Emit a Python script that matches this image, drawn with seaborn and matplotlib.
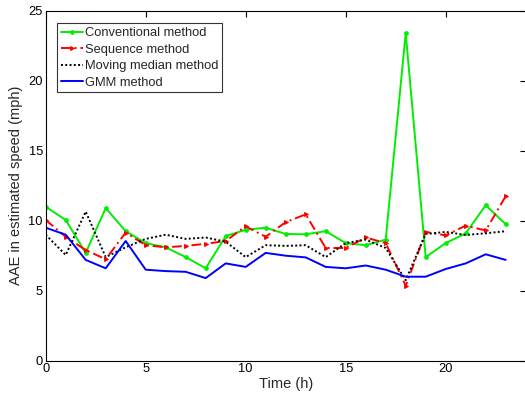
import matplotlib
matplotlib.use("Agg")
import matplotlib.pyplot as plt
import seaborn as sns
import pandas as pd

hours = list(range(24))
conventional = [11.0, 10.05, 7.7, 10.9, 9.25, 8.4, 8.1, 7.4, 6.6, 8.9, 9.35, 9.5, 9.05,
                9.03, 9.25, 8.4, 8.25, 8.65, 23.4, 7.4, 8.4, 9.1, 11.1, 9.75]
sequence = [10.05, 8.85, 7.9, 7.25, 9.15, 8.25, 8.1, 8.2, 8.35, 8.55, 9.6, 8.85, 9.9,
            10.45, 8.05, 8.05, 8.8, 8.4, 5.35, 9.2, 8.95, 9.65, 9.3, 11.75]
moving_median = [9.0, 7.55, 10.65, 7.4, 8.1, 8.7, 9.0, 8.7, 8.8, 8.5, 7.4, 8.25, 8.2,
                 8.25, 7.4, 8.4, 8.65, 8.05, 5.75, 9.05, 9.2, 8.98, 9.1, 9.25]
gmm = [9.5, 9.0, 7.2, 6.6, 8.55, 6.5, 6.4, 6.35, 5.9, 6.95, 6.7, 7.7, 7.5,
       7.38, 6.7, 6.6, 6.8, 6.5, 6.0, 6.0, 6.55, 6.95, 7.6, 7.2]

methods = ["Conventional method", "Sequence method", "Moving median method", "GMM method"]
series = [conventional, sequence, moving_median, gmm]

df = pd.DataFrame({
    "hour": hours * len(methods),
    "aae": [v for s in series for v in s],
    "method": [m for m in methods for _ in hours],
})

sns.set_style("white")
plt.rcParams["font.family"] = ["Liberation Sans", "DejaVu Sans"]

fig = plt.figure(figsize=(5.25, 3.97), dpi=100)
ax = fig.add_axes([45.7 / 525, 1 - 360.7 / 397, 480 / 525, 350 / 397])

palette = {"Conventional method": "#00ee00", "Sequence method": "#ff0000",
           "Moving median method": "#000000", "GMM method": "#0000ff"}
styles = {
    "Conventional method": dict(ls="-", marker="o", ms=2.6),
    "Sequence method": dict(ls=(0, (5, 2, 1, 2)), marker=">", ms=2.8),
    "Moving median method": dict(ls=(0, (1, 1.2)), marker=None, ms=0),
    "GMM method": dict(ls="-", marker=None, ms=0),
}

for m in methods:
    st = styles[m]
    sns.lineplot(data=df[df["method"] == m], x="hour", y="aae", ax=ax,
                 color=palette[m], lw=1.4, linestyle=st["ls"],
                 marker=st["marker"], markersize=st["ms"],
                 markeredgecolor=palette[m], label=m, estimator=None)

ax.set_xlim(0, 24)
ax.set_ylim(0, 25)
ax.set_xticks([0, 5, 10, 15, 20])
ax.set_yticks([0, 5, 10, 15, 20, 25])
ax.tick_params(direction="in", length=4, width=0.8, top=True, right=True,
               labelsize=9.3, colors="black", pad=2)
for sp in ax.spines.values():
    sp.set_visible(True)
    sp.set_color("black")
    sp.set_linewidth(0.8)

ax.set_xlabel("Time (h)", fontsize=10.5, labelpad=1)
ax.set_ylabel("AAE in estimated speed (mph)", fontsize=10.5, labelpad=4)

leg = ax.legend(loc="upper left", bbox_to_anchor=(0.024, 0.964), fontsize=9.3,
                frameon=True, fancybox=False, edgecolor="black",
                handlelength=1.7, handletextpad=0.15, borderpad=0.3,
                labelspacing=0.34, borderaxespad=0)
leg.get_frame().set_linewidth(0.8)

fig.savefig("out.png", dpi=100)
